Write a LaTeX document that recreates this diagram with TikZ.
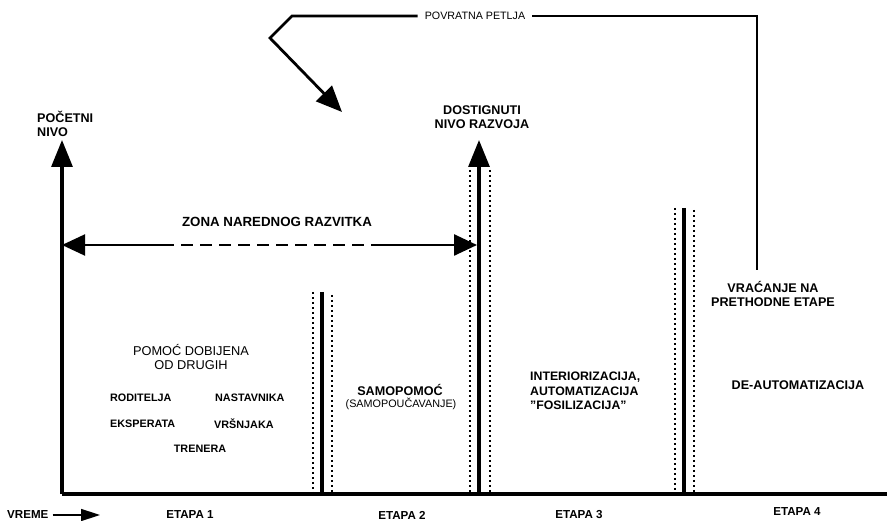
\documentclass[tikz,border=0pt]{standalone}
\usepackage{fontspec}
\setmainfont{Liberation Sans}
\usetikzlibrary{arrows.meta}
\begin{document}
\begin{tikzpicture}[x=1pt,y=-1pt,
  axis/.style={line width=3.2pt},
  bound/.style={line width=3.6pt},
  dots/.style={line width=2.1pt,dash pattern=on 2.1pt off 2.9pt},
  bigarrow/.style={-{Triangle[length=27pt,width=21pt]}},
  zonearrow/.style={-{Triangle[length=23pt,width=21pt]}},
  loopline/.style={line width=2.8pt,line join=miter},
  title/.style={inner sep=0pt,align=center,font=\fontsize{12.6}{14}\selectfont\bfseries},
  plain/.style={inner sep=0pt,align=center,font=\fontsize{12.8}{13.5}\selectfont},
  helper/.style={inner sep=0pt,font=\fontsize{10.8}{13}\selectfont\bfseries},
  stage/.style={inner sep=0pt,font=\fontsize{11.6}{13}\selectfont\bfseries}]
\useasboundingbox (0,0) rectangle (887,521);

% time and level axes
\coordinate (origin) at (62,494);
\coordinate (levelTop) at (62,140);
\coordinate (timeEnd) at (887,494);
\draw[axis] (origin) -- (timeEnd);
\draw[axis,bigarrow] (origin) -- (levelTop);

% reached level of development
\coordinate (reachBot) at (479,494);
\coordinate (reachTop) at (479,140);
\draw[dots] (470,170) -- (470,494);
\draw[dots] (490,170) -- (490,494);
\draw[axis,bigarrow] (reachBot) -- (reachTop);

% boundary between stage 1 and stage 2
\coordinate (b12top) at (322,292);
\coordinate (b12bot) at (322,494);
\draw[dots] (313,292) -- (313,494);
\draw[dots] (332,295) -- (332,494);
\draw[bound] (b12top) -- (b12bot);

% boundary between stage 3 and stage 4
\coordinate (b34top) at (684,208);
\coordinate (b34bot) at (684,494);
\draw[dots] (675,208) -- (675,494);
\draw[dots] (694,210) -- (694,494);
\draw[bound] (b34top) -- (b34bot);

% zone of proximal development
\coordinate (zoneL) at (62,245);
\coordinate (zoneR) at (477,245);
\coordinate (zoneD1) at (162,245);
\coordinate (zoneD2) at (372,245);
\draw[line width=2pt,zonearrow] (zoneD1) -- (zoneL);
\draw[line width=2.6pt,dash pattern=on 12pt off 7pt] (zoneD1) -- (zoneD2);
\draw[line width=2.6pt,zonearrow] (zoneD2) -- (zoneR);
\node[title,font=\fontsize{13.3}{14}\selectfont\bfseries] (zone) at (277,222) {ZONA NAREDNOG RAZVITKA};

% feedback loop
\coordinate (fbStart) at (757,270);
\coordinate (fbCorner) at (757,16);
\coordinate (fbBend1) at (292,16);
\coordinate (fbBend2) at (270,38);
\coordinate (fbTip) at (342,112);
\node[inner xsep=7pt,inner ysep=0pt,font=\fontsize{10.7}{13}\selectfont] (loop) at (475,16) {POVRATNA PETLJA};
\draw[loopline] (fbStart) -- (fbCorner) -- (loop.east);
\draw[loopline,-{Triangle[length=26pt,width=22pt]}] (loop.west) -- (fbBend1) -- (fbBend2) -- (fbTip);

% level labels
\node[title,align=left,anchor=west] (startLevel) at (37,124) {POČETNI\\NIVO};
\node[title] (reached) at (482,117) {DOSTIGNUTI\\NIVO RAZVOJA};

% stage 1
\node[plain] (helpOthers) at (191,357) {POMOĆ DOBIJENA\\OD DRUGIH};
\node[helper,anchor=west] (parents) at (110,398) {RODITELJA};
\node[helper,anchor=west] (teachers) at (215,398) {NASTAVNIKA};
\node[helper,anchor=west] (experts) at (110,424) {EKSPERATA};
\node[helper,anchor=west] (peers) at (214,424) {VRŠNJAKA};
\node[helper] (coaches) at (200,449) {TRENERA};

% stage 2
\node[title] (selfHelp) at (400,390) {SAMOPOMOĆ};
\node[inner sep=0pt,font=\fontsize{10.8}{13}\selectfont] (selfTeach) at (401,404) {(SAMOPOUČAVANJE)};

% stage 3
\node[title,align=left,anchor=west,font=\fontsize{12.3}{14.5}\selectfont\bfseries] (interior) at (530,391) {INTERIORIZACIJA,\\AUTOMATIZACIJA\\\symbol{34}FOSILIZACIJA\symbol{34}};

% stage 4
\node[title] (deauto) at (798,385) {DE-AUTOMATIZACIJA};
\node[title] (back) at (773,294) {VRAĆANJE NA\\PRETHODNE ETAPE};

% time axis labels
\node[stage,anchor=west] (time) at (7,515) {VREME};
\coordinate (timeTip) at (100,515);
\draw[line width=1.5pt,-{Triangle[length=19pt,width=12pt]}] ([xshift=4pt]time.east) -- (timeTip);
\node[stage] (stage1) at (190,515) {ETAPA 1};
\node[stage] (stage2) at (402,515) {ETAPA 2};
\node[stage] (stage3) at (579,515) {ETAPA 3};
\node[stage] (stage4) at (797,512) {ETAPA 4};
\end{tikzpicture}
\end{document}
